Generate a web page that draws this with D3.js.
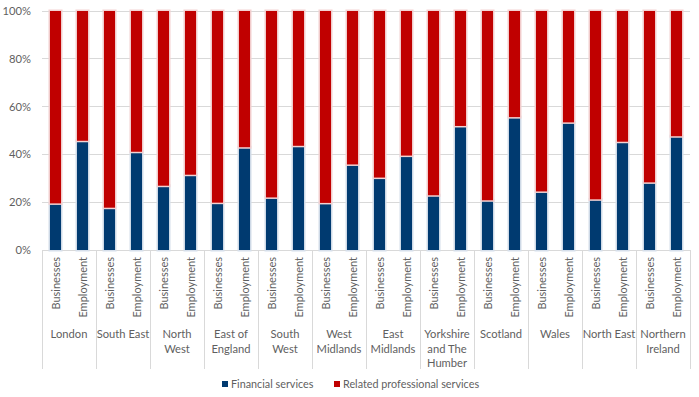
<!DOCTYPE html>
<html><head><meta charset="utf-8">
<script src="https://cdn.jsdelivr.net/npm/d3@7"></script>
<style>
body{margin:0;background:#fff;}
text{font-family:Lato, "Open Sans", sans-serif;fill:#5f5f5f;}
</style></head>
<body><svg id="c" width="699" height="397"></svg>
<script>
const regions = ["London","South East","North West","East of England","South West","West Midlands","East Midlands","Yorkshire and The Humber","Scotland","Wales","North East","Northern Ireland"];
const regionLines = [["London"],["South East"],["North","West"],["East of","England"],["South","West"],["West","Midlands"],["East","Midlands"],["Yorkshire","and The","Humber"],["Scotland"],["Wales"],["North East"],["Northern","Ireland"]];
const measures = ["Businesses","Employment"];
const seriesNames = ["Financial services","Related professional services"];
// Financial services share (%) per region: [Businesses, Employment]
const financial = [[19.5,45.7],[17.7,41.1],[26.9,31.5],[19.8,43.0],[22.0,43.6],[19.7,35.8],[30.3,39.5],[22.9,51.9],[20.8,55.6],[24.5,53.4],[21.2,45.3],[28.3,47.6]];
const yTicks = [0,20,40,60,80,100];

const colors = ["#003A70","#C00000"];
const halo = ["#d6dfeb","#f3d3d3"];

const svg = d3.select("#c");
const m = {l:42, r:9, t:11, b:147};
const W = 699, H = 397;
const x0 = d3.scaleBand().domain(regions).range([m.l, W-m.r]);
const x1 = d3.scaleBand().domain(measures).range([0, x0.bandwidth()]).paddingInner(0.59).paddingOuter(0.295);
const y = d3.scaleLinear().domain([0,100]).range([H-m.b, m.t]);

// gridlines
svg.append("g").selectAll("line").data(yTicks).join("line")
  .attr("x1", m.l).attr("x2", W-m.r)
  .attr("y1", d=>y(d)).attr("y2", d=>y(d))
  .attr("stroke","#d9d9d9").attr("stroke-width",1).attr("shape-rendering","crispEdges");

// y tick labels
svg.append("g").selectAll("text").data(yTicks).join("text")
  .attr("x", 31).attr("y", d=>y(d)).attr("dy","0.35em")
  .attr("text-anchor","end").attr("font-size", 11.2)
  .text(d=>d+"%");

// bars
const rows = [];
regions.forEach((r,i)=>measures.forEach((ms,j)=>{
  const f = financial[i][j];
  rows.push({r, ms, s:0, y0:0, y1:f});
  rows.push({r, ms, s:1, y0:f, y1:100});
}));
svg.append("g").selectAll("rect").data(rows).join("rect")
  .attr("x", d=>x0(d.r)+x1(d.ms))
  .attr("width", x1.bandwidth())
  .attr("y", d=>y(d.y1))
  .attr("height", d=>y(d.y0)-y(d.y1))
  .attr("fill", d=>colors[d.s])
  .attr("stroke", d=>halo[d.s]).attr("stroke-width",3)
  .style("paint-order","stroke");

// category axis lines
const axisBottom = y(0);
const divs = regions.map(r=>x0(r)).concat([W-m.r]);
svg.append("g").selectAll("line").data(divs).join("line")
  .attr("x1", d=>Math.round(d)+0.5).attr("x2", d=>Math.round(d)+0.5)
  .attr("y1", axisBottom).attr("y2", 369)
  .attr("stroke","#d9d9d9");

// measure labels rotated
const ml = [];
regions.forEach(r=>measures.forEach(ms=>ml.push({r,ms})));
svg.append("g").selectAll("text").data(ml).join("text")
  .attr("transform", d=>`translate(${x0(d.r)+x1(d.ms)+x1.bandwidth()/2+4},257) rotate(-90)`)
  .attr("text-anchor","end").attr("font-size", 11)
  .text(d=>d.ms);

// region labels
const rg = svg.append("g").selectAll("text").data(regions).join("text")
  .attr("x", d=>x0(d)+x0.bandwidth()/2).attr("y", 338)
  .attr("text-anchor","middle").attr("font-size", 11.2);
rg.each(function(d,i){
  d3.select(this).selectAll("tspan").data(regionLines[i]).join("tspan")
    .attr("x", x0(d)+x0.bandwidth()/2)
    .attr("dy",(t,k)=>k===0?0:14.5)
    .text(t=>t);
});

// legend
const lg = svg.append("g");
const legX = [222, 334];
seriesNames.forEach((s,i)=>{
  lg.append("rect").attr("x", legX[i]).attr("y", 381).attr("width",6).attr("height",6).attr("fill", colors[i]);
  lg.append("text").attr("x", legX[i]+9).attr("y", 384).attr("dy","0.35em").attr("font-size",10.8).text(s);
});
</script></body></html>
